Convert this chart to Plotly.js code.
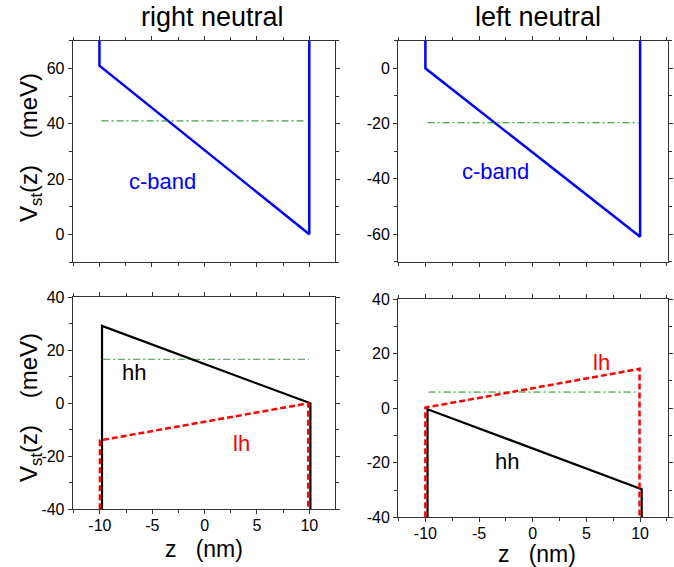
<!DOCTYPE html>
<html>
<head>
<meta charset="utf-8">
<script src="https://cdn.plot.ly/plotly-3.0.1.min.js"></script>
<style>html,body{margin:0;padding:0;background:#fff;}#chart{width:674px;height:567px;}</style>
</head>
<body>
<div id="chart"></div>
<script>
// ---- data ----
// top-left: right neutral, conduction band
const cbRightX = [-10, -10, 10, 10];
const cbRightY = [72, 61, 0, 72];
const levelTLX = [-9.8, 9.7];
const levelTLY = [41, 41];
// top-right: left neutral, conduction band
const cbLeftX = [-10, -10, 10, 10];
const cbLeftY = [12, 0, -61, 12];
const levelTRX = [-9.8, 9.85];
const levelTRY = [-19.7, -19.7];
// bottom-left: right neutral, valence bands
const hhRightX = [-9.8, -9.8, 10.1, 10.1];
const hhRightY = [-40, 29.2, 0, -40];
const lhRightX = [-10, -10, 9.9, 9.9];
const lhRightY = [-40, -14, 0, -40];
const levelBLX = [-9.7, 9.95];
const levelBLY = [16.6, 16.6];
// bottom-right: left neutral, valence bands
const hhLeftX = [-9.8, -9.8, 10.15, 10.15];
const hhLeftY = [-40, -0.4, -29.7, -40];
const lhLeftX = [-10, -10, 9.95, 9.95];
const lhLeftY = [-40, 0.2, 14.4, -40];
const levelBRX = [-9.7, 9.9];
const levelBRY = [5.9, 5.9];

const panelTitles = ['right neutral', 'left neutral'];
const xTickVals = [-10, -5, 0, 5, 10];
const xTickText = ['-10', '-5', '0', '5', '10'];
const yTickTop = [0, 20, 40, 60];
const yTickTopText = ['0', '20', '40', '60'];
const yTickTopR = [-60, -40, -20, 0];
const yTickTopRText = ['-60', '-40', '-20', '0'];
const yTickBot = [-40, -20, 0, 20, 40];
const yTickBotText = ['-40', '-20', '0', '20', '40'];

const FONT = 'Liberation Sans, Arial, sans-serif';
const BLUE = '#0000ff', RED = '#ff0000', BLACK = '#000000', GREEN = '#138a13';
const greenDash = '7px,3px,2px,3px';

const traces = [
  {x: cbRightX, y: cbRightY, xaxis: 'x', yaxis: 'y', mode: 'lines', line: {color: BLUE, width: 2.5}},
  {x: levelTLX, y: levelTLY, xaxis: 'x', yaxis: 'y', mode: 'lines', line: {color: GREEN, width: 1, dash: greenDash}},
  {x: cbLeftX, y: cbLeftY, xaxis: 'x2', yaxis: 'y2', mode: 'lines', line: {color: BLUE, width: 2.5}},
  {x: levelTRX, y: levelTRY, xaxis: 'x2', yaxis: 'y2', mode: 'lines', line: {color: GREEN, width: 1, dash: greenDash}},
  {x: levelBLX, y: levelBLY, xaxis: 'x3', yaxis: 'y3', mode: 'lines', line: {color: '#3c963c', width: 1, dash: greenDash}},
  {x: hhRightX, y: hhRightY, xaxis: 'x3', yaxis: 'y3', mode: 'lines', line: {color: BLACK, width: 2.2}},
  {x: lhRightX, y: lhRightY, xaxis: 'x3', yaxis: 'y3', mode: 'lines', line: {color: RED, width: 2.5, dash: '6px,3px'}},
  {x: levelBRX, y: levelBRY, xaxis: 'x4', yaxis: 'y4', mode: 'lines', line: {color: GREEN, width: 1, dash: greenDash}},
  {x: hhLeftX, y: hhLeftY, xaxis: 'x4', yaxis: 'y4', mode: 'lines', line: {color: BLACK, width: 2.2}},
  {x: lhLeftX, y: lhLeftY, xaxis: 'x4', yaxis: 'y4', mode: 'lines', line: {color: RED, width: 2.5, dash: '6px,3px'}}
];

function ax(extra) {
  return Object.assign({
    showline: true, linecolor: '#333', linewidth: 1, mirror: 'ticks',
    ticks: 'outside', ticklen: 4, tickwidth: 1, tickcolor: '#333',
    showgrid: false, zeroline: false,
    tickfont: {family: FONT, size: 16, color: '#000'}
  }, extra);
}
const xMinor = {dtick: 2.5, tick0: 0, ticks: 'outside', ticklen: 3, tickcolor: '#333'};
const yMinor = {dtick: 10, tick0: 0, ticks: 'outside', ticklen: 3, tickcolor: '#333'};
const W = 674, H = 567;
const dx = (a, b) => [a / W, b / W];
const dy = (top, bot) => [1 - bot / H, 1 - top / H];
const tf = (s, c) => ({family: FONT, size: s, color: c || '#000'});

const layout = {
  width: W, height: H,
  margin: {l: 0, r: 0, t: 0, b: 0},
  paper_bgcolor: '#fff', plot_bgcolor: '#fff',
  showlegend: false,
  font: {family: FONT, color: '#000'},
  xaxis: ax({domain: dx(72.7, 335), range: [-12.55, 12.45], anchor: 'y', tickvals: xTickVals, ticktext: xTickText,
    showticklabels: false, minor: xMinor}),
  yaxis: ax({domain: dy(40.7, 262), range: [-10, 70], anchor: 'x', tickvals: yTickTop, ticktext: yTickTopText, minor: yMinor}),
  xaxis2: ax({domain: dx(398, 668), range: [-12.55, 12.6], anchor: 'y2', tickvals: xTickVals, ticktext: xTickText,
    showticklabels: false, minor: xMinor}),
  yaxis2: ax({domain: dy(40.7, 261.7), range: [-70, 10], anchor: 'x2', tickvals: yTickTopR, ticktext: yTickTopRText, minor: yMinor}),
  xaxis3: ax({domain: dx(72.7, 335), range: [-12.6, 12.45], anchor: 'y3', tickvals: xTickVals, ticktext: xTickText,
    minor: xMinor, ticklabelstandoff: -3}),
  yaxis3: ax({domain: dy(297.3, 509.3), range: [-40, 40], anchor: 'x3', tickvals: yTickBot, ticktext: yTickBotText, minor: yMinor}),
  xaxis4: ax({domain: dx(398, 668), range: [-12.55, 12.6], anchor: 'y4', tickvals: xTickVals, ticktext: xTickText,
    minor: xMinor, ticklabelstandoff: -3}),
  yaxis4: ax({domain: dy(299, 517.3), range: [-40, 40], anchor: 'x4', tickvals: yTickBot, ticktext: yTickBotText, minor: yMinor}),
  annotations: [
    {text: panelTitles[0], xref: 'paper', yref: 'paper', x: 212.5 / W, y: 1 - 17 / H, showarrow: false,
      xanchor: 'center', yanchor: 'middle', font: tf(27)},
    {text: panelTitles[1], xref: 'paper', yref: 'paper', x: 538 / W, y: 1 - 17 / H, showarrow: false,
      xanchor: 'center', yanchor: 'middle', font: tf(27)},
    {text: 'V<sub>st</sub>(z)\u00a0\u00a0\u00a0\u00a0(meV)', xref: 'paper', yref: 'paper', x: 30 / W, y: 1 - 148 / H,
      textangle: -90, showarrow: false, xanchor: 'center', yanchor: 'middle', font: tf(24)},
    {text: 'V<sub>st</sub>(z)\u00a0\u00a0\u00a0\u00a0(meV)', xref: 'paper', yref: 'paper', x: 30 / W, y: 1 - 408 / H,
      textangle: -90, showarrow: false, xanchor: 'center', yanchor: 'middle', font: tf(24)},
    {text: 'z\u00a0\u00a0\u00a0(nm)', xref: 'paper', yref: 'paper', x: 204 / W, y: 1 - 549 / H, showarrow: false,
      xanchor: 'center', yanchor: 'middle', font: tf(23)},
    {text: 'z\u00a0\u00a0\u00a0(nm)', xref: 'paper', yref: 'paper', x: 537 / W, y: 1 - 554 / H, showarrow: false,
      xanchor: 'center', yanchor: 'middle', font: tf(23)},
    {text: 'c-band', xref: 'x', yref: 'y', x: -4.0, y: 19, showarrow: false, font: tf(22, BLUE)},
    {text: 'c-band', xref: 'x2', yref: 'y2', x: -3.5, y: -37.5, showarrow: false, font: tf(22, BLUE)},
    {text: 'hh', xref: 'x3', yref: 'y3', x: -6.75, y: 11.6, showarrow: false, font: tf(22, BLACK)},
    {text: 'lh', xref: 'x3', yref: 'y3', x: 3.5, y: -15.3, showarrow: false, font: tf(22, RED)},
    {text: 'lh', xref: 'x4', yref: 'y4', x: 6.37, y: 16.7, showarrow: false, font: tf(22, RED)},
    {text: 'hh', xref: 'x4', yref: 'y4', x: -2.36, y: -19.5, showarrow: false, font: tf(22, BLACK)}
  ]
};

Plotly.newPlot('chart', traces, layout, {displayModeBar: false, staticPlot: true});
</script>
</body>
</html>
